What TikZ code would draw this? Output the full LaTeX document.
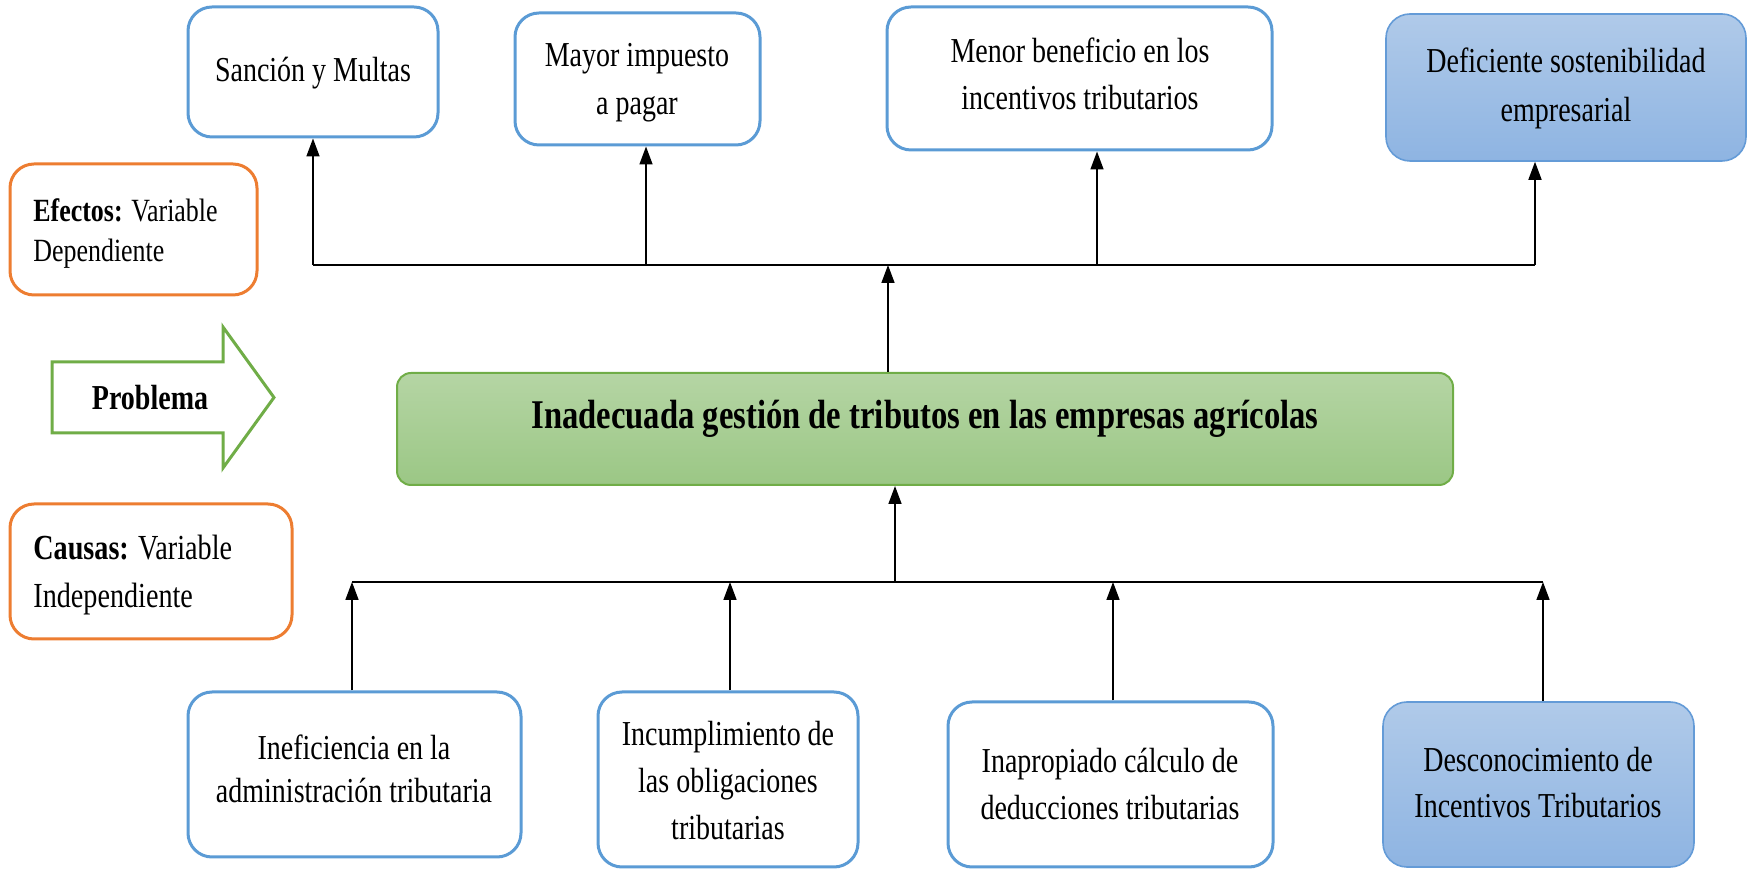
\documentclass[tikz,border=0pt]{standalone}
\usepackage{fontspec}
\setmainfont[FakeStretch=0.8]{Liberation Serif}
\usetikzlibrary{arrows.meta,fit}
\definecolor{bl}{HTML}{5B9BD5}
\definecolor{orng}{HTML}{ED7D31}
\definecolor{grn}{HTML}{70AD47}
\definecolor{gtop}{RGB}{181,213,164}
\definecolor{gbot}{RGB}{155,199,133}
\definecolor{btop}{RGB}{176,202,233}
\definecolor{bbot}{RGB}{142,180,226}
\definecolor{bstroke}{RGB}{100,155,215}
\begin{document}
\begin{tikzpicture}[x=0.5pt,y=-0.5pt,
  txt/.style={anchor=base, align=center, inner sep=0pt, font=\fontsize{17.5}{23.5}\selectfont},
  ltxt/.style={anchor=base west, align=left, inner sep=0pt},
  box/.style={draw=bl, line width=1.5pt, rounded corners=12pt, inner sep=0pt},
  fbox/.style={draw=bstroke, line width=0.8pt, rounded corners=12pt, inner sep=0pt, top color=btop, bottom color=bbot},
  obox/.style={draw=orng, line width=1.5pt, rounded corners=12pt, inner sep=0pt},
  arr/.style={-{Triangle[length=9pt,width=6.5pt]}, line width=0.8pt},
  busline/.style={line width=0.8pt}
]
\useasboundingbox (0,0) rectangle (1752,870);

% effects
\node[box, fit={(188,7) (438,137)}] (e1) {};
\node[txt] (e1t) at (313,82) {Sanción y Multas};
\node[box, fit={(515,13) (760,145)}] (e2) {};
\node[txt, font=\fontsize{17.5}{24}\selectfont] (e2t) at (637,115) {Mayor impuesto\\a pagar};
\node[box, fit={(887,7) (1272,150)}] (e3) {};
\node[txt] (e3t) at (1080,110) {Menor beneficio en los\\incentivos tributarios};
\node[fbox, fit={(1386,14) (1746,161)}] (e4) {};
\node[txt, font=\fontsize{17.5}{24.5}\selectfont] (e4t) at (1566,122) {Deficiente sostenibilidad\\empresarial};

% side labels
\node[obox, fit={(10,164) (257,295)}] (efe) {};
\node[ltxt, font=\fontsize{16.2}{20}\selectfont] (efet) at (33,262) {\textbf{Efectos:} Variable\\Dependiente};
\node[obox, fit={(10,504) (292,639)}] (cau) {};
\node[ltxt, font=\fontsize{17.6}{24}\selectfont] (caut) at (33,608) {\textbf{Causas:} Variable\\Independiente};

% problem arrow
\draw[draw=grn, line width=1.5pt, fill=white] (52,362) -- (223,362) -- (223,327) -- (274,397.5) -- (223,468) -- (223,433) -- (52,433) -- cycle;
\node[txt, font=\fontsize{17.5}{21}\selectfont\bfseries] (prob) at (150,410) {Problema};

% main problem
\node[draw=grn, line width=1pt, rounded corners=7pt, inner sep=0pt, top color=gtop, bottom color=gbot, fit={(397,373) (1453,485)}] (main) {};
\node[txt, font=\fontsize{20.4}{25}\selectfont\bfseries] (title) at (925,429) {Inadecuada gestión de tributos en las empresas agrícolas};

% causes
\node[box, fit={(188,692) (521,857)}] (c1) {};
\node[txt, font=\fontsize{17.5}{21.5}\selectfont] (c1t) at (354,803) {Ineficiencia en la\\administración tributaria};
\node[box, fit={(598,692) (858,867)}] (c2) {};
\node[txt] (c2t) at (728,840) {Incumplimiento de\\las obligaciones\\tributarias};
\node[box, fit={(948,702) (1273,867)}] (c3) {};
\node[txt] (c3t) at (1110,820) {Inapropiado cálculo de\\deducciones tributarias};
\node[fbox, fit={(1383,702) (1694,867)}] (c4) {};
\node[txt, font=\fontsize{17.5}{23}\selectfont] (c4t) at (1538,818) {Desconocimiento de\\Incentivos Tributarios};

% effects bus
\coordinate (eb1) at (313,265);
\coordinate (eb2) at (646,265);
\coordinate (ebc) at (888,265);
\coordinate (eb3) at (1097,265);
\coordinate (eb4) at (1535,265);
\draw[busline] (eb1) -- (eb4);
\draw[arr] (eb1) -- (e1.south -| eb1);
\draw[arr] (eb2) -- (e2.south -| eb2);
\draw[arr] (eb3) -- (e3.south -| eb3);
\draw[arr] (eb4) -- (e4.south -| eb4);
\draw[arr] (main.north -| ebc) -- (ebc);

% causes bus
\coordinate (cb1) at (352,582);
\coordinate (cb2) at (730,582);
\coordinate (cbc) at (895,582);
\coordinate (cb3) at (1113,582);
\coordinate (cb4) at (1543,582);
\draw[busline] (cb1) -- (cb4);
\draw[arr] (c1.north -| cb1) -- (cb1);
\draw[arr] (c2.north -| cb2) -- (cb2);
\draw[arr] (c3.north -| cb3) -- (cb3);
\draw[arr] (c4.north -| cb4) -- (cb4);
\draw[arr] (cbc) -- (main.south -| cbc);
\end{tikzpicture}
\end{document}
